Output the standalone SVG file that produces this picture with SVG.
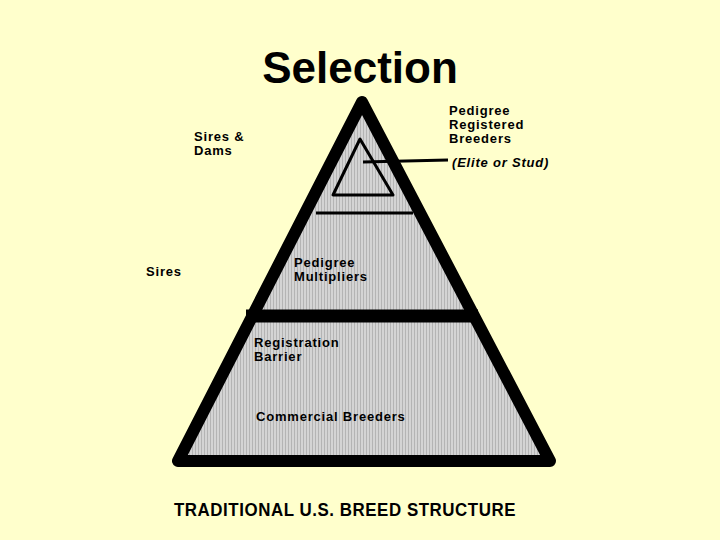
<svg xmlns="http://www.w3.org/2000/svg" width="720" height="540" viewBox="0 0 720 540">
<defs>
<pattern id="stripes" width="3" height="4" patternUnits="userSpaceOnUse">
<rect width="3" height="4" fill="#d4d4d4"/><rect width="1" height="4" fill="#b4b4b4"/>
</pattern>
<style>
text{font-family:"Liberation Sans",Arial,sans-serif;font-weight:bold;fill:#000}
.l{font-size:13px;letter-spacing:0.8px}
</style>
</defs>
<rect width="720" height="540" fill="#ffffcc"/>
<text x="360" y="83" font-size="44" text-anchor="middle">Selection</text>
<g id="pyramid">
<polygon points="362,102 178,461 550,461" fill="url(#stripes)" stroke="#000" stroke-width="12" stroke-linejoin="round"/>
<line x1="246" y1="316" x2="478" y2="316" stroke="#000" stroke-width="13"/>
<line x1="316" y1="213" x2="413" y2="213" stroke="#000" stroke-width="3"/>
</g>
<g id="elite">
<polygon points="360,139 333,195 393,195" fill="none" stroke="#000" stroke-width="3" stroke-linejoin="round"/>
</g>
<g id="connectors">
<line x1="363" y1="162" x2="448" y2="160" stroke="#000" stroke-width="3"/>
</g>
<g id="labels">
<text class="l" x="449" y="115">Pedigree</text>
<text class="l" x="449" y="129">Registered</text>
<text class="l" x="449" y="143">Breeders</text>
<text class="l" x="452" y="167" font-style="italic">(Elite or Stud)</text>
<text class="l" x="194" y="141">Sires &amp;</text>
<text class="l" x="194" y="155">Dams</text>
<text class="l" x="146" y="276">Sires</text>
<text class="l" x="294" y="267">Pedigree</text>
<text class="l" x="294" y="281">Multipliers</text>
<text class="l" x="254" y="347">Registration</text>
<text class="l" x="254" y="361">Barrier</text>
<text class="l" x="256" y="421">Commercial Breeders</text>
<text x="345" y="516" font-size="18" text-anchor="middle" letter-spacing="0.6" textLength="342" lengthAdjust="spacingAndGlyphs">TRADITIONAL U.S. BREED STRUCTURE</text>
</g>
</svg>
